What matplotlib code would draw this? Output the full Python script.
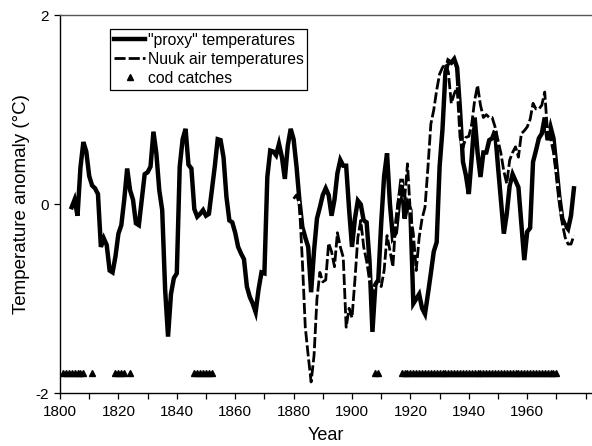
import numpy as np
import matplotlib
matplotlib.use("Agg")
import matplotlib.pyplot as plt

plt.rcParams['font.family'] = ['Liberation Sans', 'DejaVu Sans']
plt.rcParams['axes.unicode_minus'] = False

proxy_years = list(range(1804, 1977))
proxy_vals = [
    -0.03, 0.05, -0.12, 0.39, 0.66, 0.56, 0.30, 0.20, 0.17, 0.11,   # 1804-1813
    -0.45, -0.36, -0.43, -0.70, -0.72, -0.55, -0.31, -0.22, 0.05, 0.38,  # 1814-1823
    0.15, 0.05, -0.20, -0.22, 0.05, 0.32, 0.34, 0.40, 0.77, 0.54,   # 1824-1833
    0.15, -0.06, -0.90, -1.40, -0.95, -0.78, -0.73, 0.40, 0.69, 0.80,  # 1834-1843
    0.42, 0.38, -0.05, -0.13, -0.10, -0.06, -0.12, -0.10, 0.15, 0.40,  # 1844-1853
    0.69, 0.68, 0.50, 0.08, -0.17, -0.19, -0.30, -0.45, -0.52, -0.58,  # 1854-1863
    -0.87, -0.98, -1.05, -1.14, -0.90, -0.72, -0.73, 0.29, 0.57, 0.56,  # 1864-1873
    0.52, 0.64, 0.50, 0.27, 0.62, 0.80, 0.69, 0.40, 0.04, -0.24,   # 1874-1883
    -0.35, -0.45, -0.93, -0.49, -0.15, -0.03, 0.10, 0.17, 0.10, -0.12,  # 1884-1893
    0.05, 0.33, 0.47, 0.41, 0.41, -0.05, -0.45, -0.15, 0.04, 0.00,   # 1894-1903
    -0.17, -0.19, -0.60, -1.35, -0.85, -0.80, -0.20, 0.30, 0.54, 0.00,  # 1904-1913
    -0.35, -0.30, 0.00, 0.27, -0.15, 0.01, -0.06, -1.05, -1.00, -0.95,  # 1914-1923
    -1.10, -1.16, -0.95, -0.73, -0.50, -0.40, 0.40, 0.80, 1.40, 1.52,  # 1924-1933
    1.50, 1.54, 1.45, 1.00, 0.45, 0.31, 0.11, 0.50, 0.92, 0.55,   # 1934-1943
    0.29, 0.55, 0.55, 0.68, 0.70, 0.78, 0.40, 0.04, -0.31, -0.10,   # 1944-1953
    0.20, 0.32, 0.25, 0.18, -0.20, -0.59, -0.29, -0.25, 0.45, 0.57,  # 1954-1963
    0.70, 0.75, 0.92, 0.68, 0.82, 0.70, 0.40, 0.08, -0.15, -0.22,   # 1964-1973
    -0.26, -0.12, 0.17,   # 1974-1976
]

nuuk_years = list(range(1880, 1977))
nuuk_vals = [
    0.06, 0.10, 0.00, -0.60, -1.30, -1.60, -1.88, -1.60, -1.00, -0.72,  # 1880-1889
    -0.82, -0.80, -0.41, -0.50, -0.66, -0.30, -0.45, -0.56, -1.30, -1.10,  # 1890-1899
    -1.20, -0.80, -0.35, -0.17, -0.45, -0.60, -0.80, -0.91, -0.84, -0.80,  # 1900-1909
    -0.87, -0.70, -0.33, -0.49, -0.66, -0.17, 0.08, 0.22, 0.05, 0.43,   # 1910-1919
    -0.10, -0.31, -0.70, -0.35, -0.15, -0.03, 0.39, 0.85, 1.00, 1.21,   # 1920-1929
    1.38, 1.45, 1.49, 1.40, 1.07, 1.17, 1.24, 0.71, 0.60, 0.71,   # 1930-1939
    0.72, 0.85, 1.10, 1.26, 1.05, 0.92, 0.95, 0.92, 0.92, 0.82,   # 1940-1949
    0.68, 0.54, 0.35, 0.22, 0.47, 0.55, 0.61, 0.50, 0.75, 0.78,   # 1950-1959
    0.82, 0.90, 1.07, 1.01, 1.01, 1.05, 1.19, 0.75, 0.70, 0.55,   # 1960-1969
    0.30, 0.05, -0.20, -0.35, -0.42, -0.42, -0.33,   # 1970-1976
]

cod_years = (list(range(1801, 1809)) + [1811] + [1819, 1820, 1821, 1822, 1824]
             + list(range(1846, 1853)) + [1908, 1909] + list(range(1917, 1971)))
cod_level = -1.78

x_labels = ['1800', '1820', '1840', '1860', '1880', '1900', '1920', '1940', '1960']

fig = plt.figure(figsize=(5.92, 4.46), dpi=100)
ax = fig.add_axes([60/592, (446-393.3)/446, 1 - 60/592, (393.3-15.5)/446])

ax.plot(proxy_years, proxy_vals, color='black', lw=3.2, solid_joinstyle='miter',
        label='"proxy" temperatures', zorder=3)
ax.plot(nuuk_years, nuuk_vals, color='black', lw=2.0, ls=(0, (4.0, 1.1)),
        gapcolor='white', label='Nuuk air temperatures', zorder=4)
ax.plot(cod_years, [cod_level]*len(cod_years), ls='none', marker='^',
        color='black', ms=5, label='cod catches', zorder=5)

ax.set_xlim(1800, 1800 + 532/2.92)
ax.set_ylim(-2, 2)
ax.set_xticks([int(s) for s in x_labels])
ax.set_xticklabels(x_labels)
ax.set_xticks(range(1810, 1981, 10), minor=True)
ax.set_yticks([-2, 0, 2])
ax.tick_params(axis='both', which='both', direction='out', length=4.5, width=0.9,
               labelsize=11, color='black')
ax.tick_params(axis='x', pad=4)
ax.spines['right'].set_visible(False)
for s in ['left', 'bottom', 'top']:
    ax.spines[s].set_linewidth(1.0)
    ax.spines[s].set_color('black')
ax.spines['top'].set_color('#555555')

ax.set_xlabel('Year', fontsize=13, labelpad=6)
ax.set_ylabel('Temperature anomaly (°C)', fontsize=13.5, labelpad=4)

leg = ax.legend(loc='upper left', bbox_to_anchor=((110-60)/532, (393.3-29)/377.8),
                borderaxespad=0, fancybox=False, framealpha=1, edgecolor='black',
                fontsize=11.3, handlelength=2.0, handletextpad=0.15, labelspacing=0.25,
                borderpad=0.25)
leg.get_frame().set_linewidth(0.9)

fig.savefig('out.png', dpi=100)
